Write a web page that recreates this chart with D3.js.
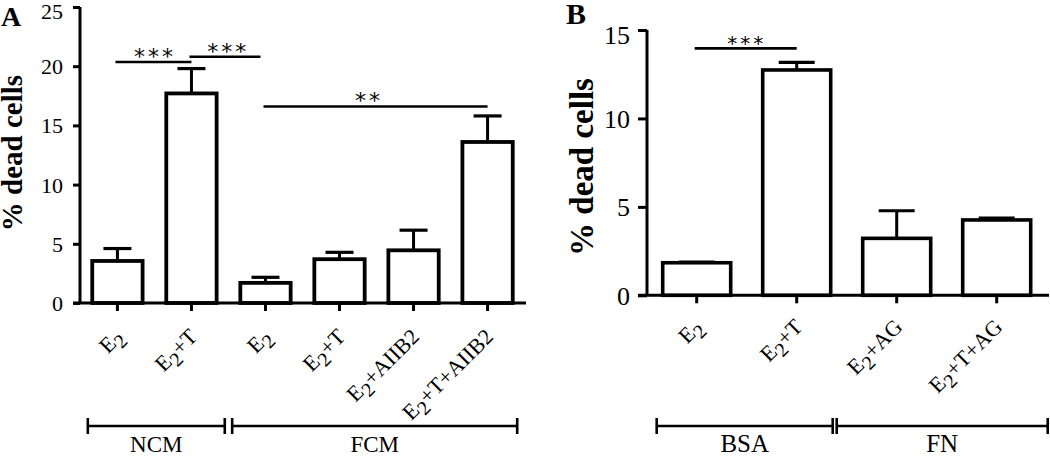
<!DOCTYPE html>
<html>
<head>
<meta charset="utf-8">
<script src="https://cdn.jsdelivr.net/npm/d3@7"></script>
<style>
  body { margin: 0; background: #fff; }
  svg { display: block; font-family: "Liberation Serif", "Times New Roman", serif; }
</style>
</head>
<body>
<svg id="chart" width="1050" height="456"></svg>
<script>
// ===== Data: panel A =====
const catsA = ["E2", "E2+T", "E2", "E2+T", "E2+AIIB2", "E2+T+AIIB2"];
const meansA = [3.55, 17.7, 1.7, 3.7, 4.45, 13.6];
const errA = [1.05, 2.1, 0.47, 0.58, 1.7, 2.2];
const ticksA = [0, 5, 10, 15, 20, 25];
// significance bars: [from index, to index, height, stars, star position (index units)]
const sigA = [[0, 1, 20.35, "***", 0.48], [1, 2, 20.8, "***", 1.47], [2, 5, 16.6, "**", 3.37]];
// group brackets: [name, start index, end index]
const groupsA = [["NCM", -0.4, 1.45], ["FCM", 1.55, 5.4]];

// ===== Data: panel B =====
const catsB = ["E2", "E2+T", "E2+AG", "E2+T+AG"];
const meansB = [1.84, 12.74, 3.22, 4.26];
const errB = [0.04, 0.43, 1.56, 0.1];
const ticksB = [0, 5, 10, 15];
const sigB = [[0, 1, 13.96, "***", 0.48]];
const groupsB = [["BSA", -0.4, 1.36], ["FN", 1.4, 3.51]];

const svg = d3.select("#chart");

// label with subscript on the leading "E2"
function subLabel(sel, s) {
  sel.append("tspan").text("E");
  sel.append("tspan").attr("dy", "0.3em").style("font-size", "0.9em").text("2");
  const rest = s.slice(2);
  if (rest) sel.append("tspan").attr("dy", "-0.27em").text(rest);
}

function drawPanel(opt) {
  const g = svg.append("g");
  const n = opt.cats.length;
  const x = d3.scaleBand().domain(d3.range(n)).range(opt.xr)
    .paddingInner(0.32).paddingOuter(opt.po);
  const y = d3.scaleLinear().domain([0, opt.ymax]).range(opt.yr);
  const step = x.step();
  const c0 = x(0) + x.bandwidth() / 2;
  const pos = v => c0 + v * step;

  // bars
  g.selectAll("rect.bar").data(opt.means).join("rect")
    .attr("class", "bar")
    .attr("x", (d, i) => x(i))
    .attr("width", x.bandwidth())
    .attr("y", d => y(d))
    .attr("height", d => y(0) - y(d))
    .attr("fill", "#fff").attr("stroke", "#000").attr("stroke-width", opt.barStroke);

  // error bars
  opt.means.forEach((m, i) => {
    const cx = pos(i), top = y(m + opt.err[i]);
    g.append("line").attr("x1", cx).attr("x2", cx).attr("y1", y(m)).attr("y2", top)
      .attr("stroke", "#000").attr("stroke-width", 3);
    g.append("line").attr("x1", cx - opt.cap / 2).attr("x2", cx + opt.cap / 2)
      .attr("y1", top).attr("y2", top)
      .attr("stroke", "#000").attr("stroke-width", 3.2);
  });

  // y axis
  const yAxis = g.append("g").attr("transform", `translate(${opt.xAxisX},0)`)
    .call(d3.axisLeft(y).tickValues(opt.ticks).tickSize(opt.tick).tickPadding(opt.tickPad));
  yAxis.select(".domain").attr("stroke-width", 3).attr("d", `M0,${opt.yr[1]}V${opt.yr[0]}`);
  yAxis.selectAll(".tick line").attr("stroke-width", 3);
  yAxis.selectAll(".tick text").style("font-size", opt.tickFont + "px")
    .attr("font-family", "Liberation Serif").attr("fill", "#000")
    .attr("dy", d => d === opt.ymax ? "0.5em" : "0.34em");

  // x axis
  const xAxis = g.append("g").attr("transform", `translate(0,${opt.yr[0]})`)
    .call(d3.axisBottom(x).tickSize(8).tickFormat(""));
  xAxis.select(".domain").attr("stroke-width", 3)
    .attr("d", `M${opt.xAxisX - opt.tick},0H${opt.xEnd}`);
  xAxis.selectAll(".tick line").attr("stroke-width", 3);

  // rotated category labels
  opt.cats.forEach((c, i) => {
    const t = g.append("text")
      .attr("transform", `translate(${pos(i) + opt.lblDx},${opt.yr[0] + opt.lblDy}) rotate(-45)`)
      .attr("text-anchor", "end")
      .style("font-size", opt.lblFont + "px");
    subLabel(t, c);
  });

  // significance lines
  opt.sig.forEach(([a, b, h, s, sp]) => {
    g.append("line").attr("x1", pos(a) - 2).attr("x2", pos(b) - (a > 0 && b - a === 1 ? 5 : 0))
      .attr("y1", y(h)).attr("y2", y(h))
      .attr("stroke", "#000").attr("stroke-width", 2.6);
    g.append("text").attr("x", pos(sp) + 2).attr("y", y(h) + 2)
      .attr("text-anchor", "middle").style("font-size", opt.starFont + "px")
      .attr("letter-spacing", "3px").attr("font-family", "DejaVu Sans")
      .text(s);
  });

  // group brackets
  opt.groups.forEach(([name, a, b]) => {
    const x1 = pos(a), x2 = pos(b), by = 426;
    g.append("line").attr("x1", x1).attr("x2", x2).attr("y1", by).attr("y2", by)
      .attr("stroke", "#000").attr("stroke-width", 2.6);
    [x1, x2].forEach(xx => g.append("line").attr("x1", xx).attr("x2", xx)
      .attr("y1", by - 8).attr("y2", by + 8).attr("stroke", "#000").attr("stroke-width", 2.6));
    g.append("text").attr("x", (x1 + x2) / 2).attr("y", 452)
      .attr("text-anchor", "middle").style("font-size", opt.grpFont + "px").text(name);
  });

  // y title
  g.append("text")
    .attr("transform", `translate(${opt.titleX},${opt.titleY}) rotate(-90)`)
    .attr("text-anchor", "middle").attr("font-weight", "bold")
    .style("font-size", opt.titleFont + "px").text("% dead cells");

  // panel letter
  g.append("text").attr("x", opt.letterX).attr("y", opt.letterY)
    .attr("font-weight", "bold").style("font-size", opt.letterFont + "px").text(opt.letter);
}

drawPanel({
  cats: catsA, means: meansA, err: errA, ticks: ticksA, sig: sigA, groups: groupsA,
  ymax: 25, yr: [303, 7], xr: [83, 522], po: 0.125, xAxisX: 80, xEnd: 526,
  tick: 7, tickPad: 10, tickFont: 22, barStroke: 3.8, cap: 28,
  lblDx: 7, lblDy: 35, lblFont: 22, starFont: 22, grpFont: 23,
  titleX: 22, titleY: 153, titleFont: 29,
  letter: "A", letterX: 1, letterY: 26, letterFont: 28
});

drawPanel({
  cats: catsB, means: meansB, err: errB, ticks: ticksB, sig: sigB, groups: groupsB,
  ymax: 15, yr: [295.3, 30], xr: [650, 1043.4], po: 0.127, xAxisX: 647, xEnd: 1049,
  tick: 9, tickPad: 8, tickFont: 26, barStroke: 3.6, cap: 36,
  lblDx: 7, lblDy: 33, lblFont: 22, starFont: 20, grpFont: 25,
  titleX: 593, titleY: 167, titleFont: 33,
  letter: "B", letterX: 566, letterY: 24, letterFont: 30
});
</script>
</body>
</html>
